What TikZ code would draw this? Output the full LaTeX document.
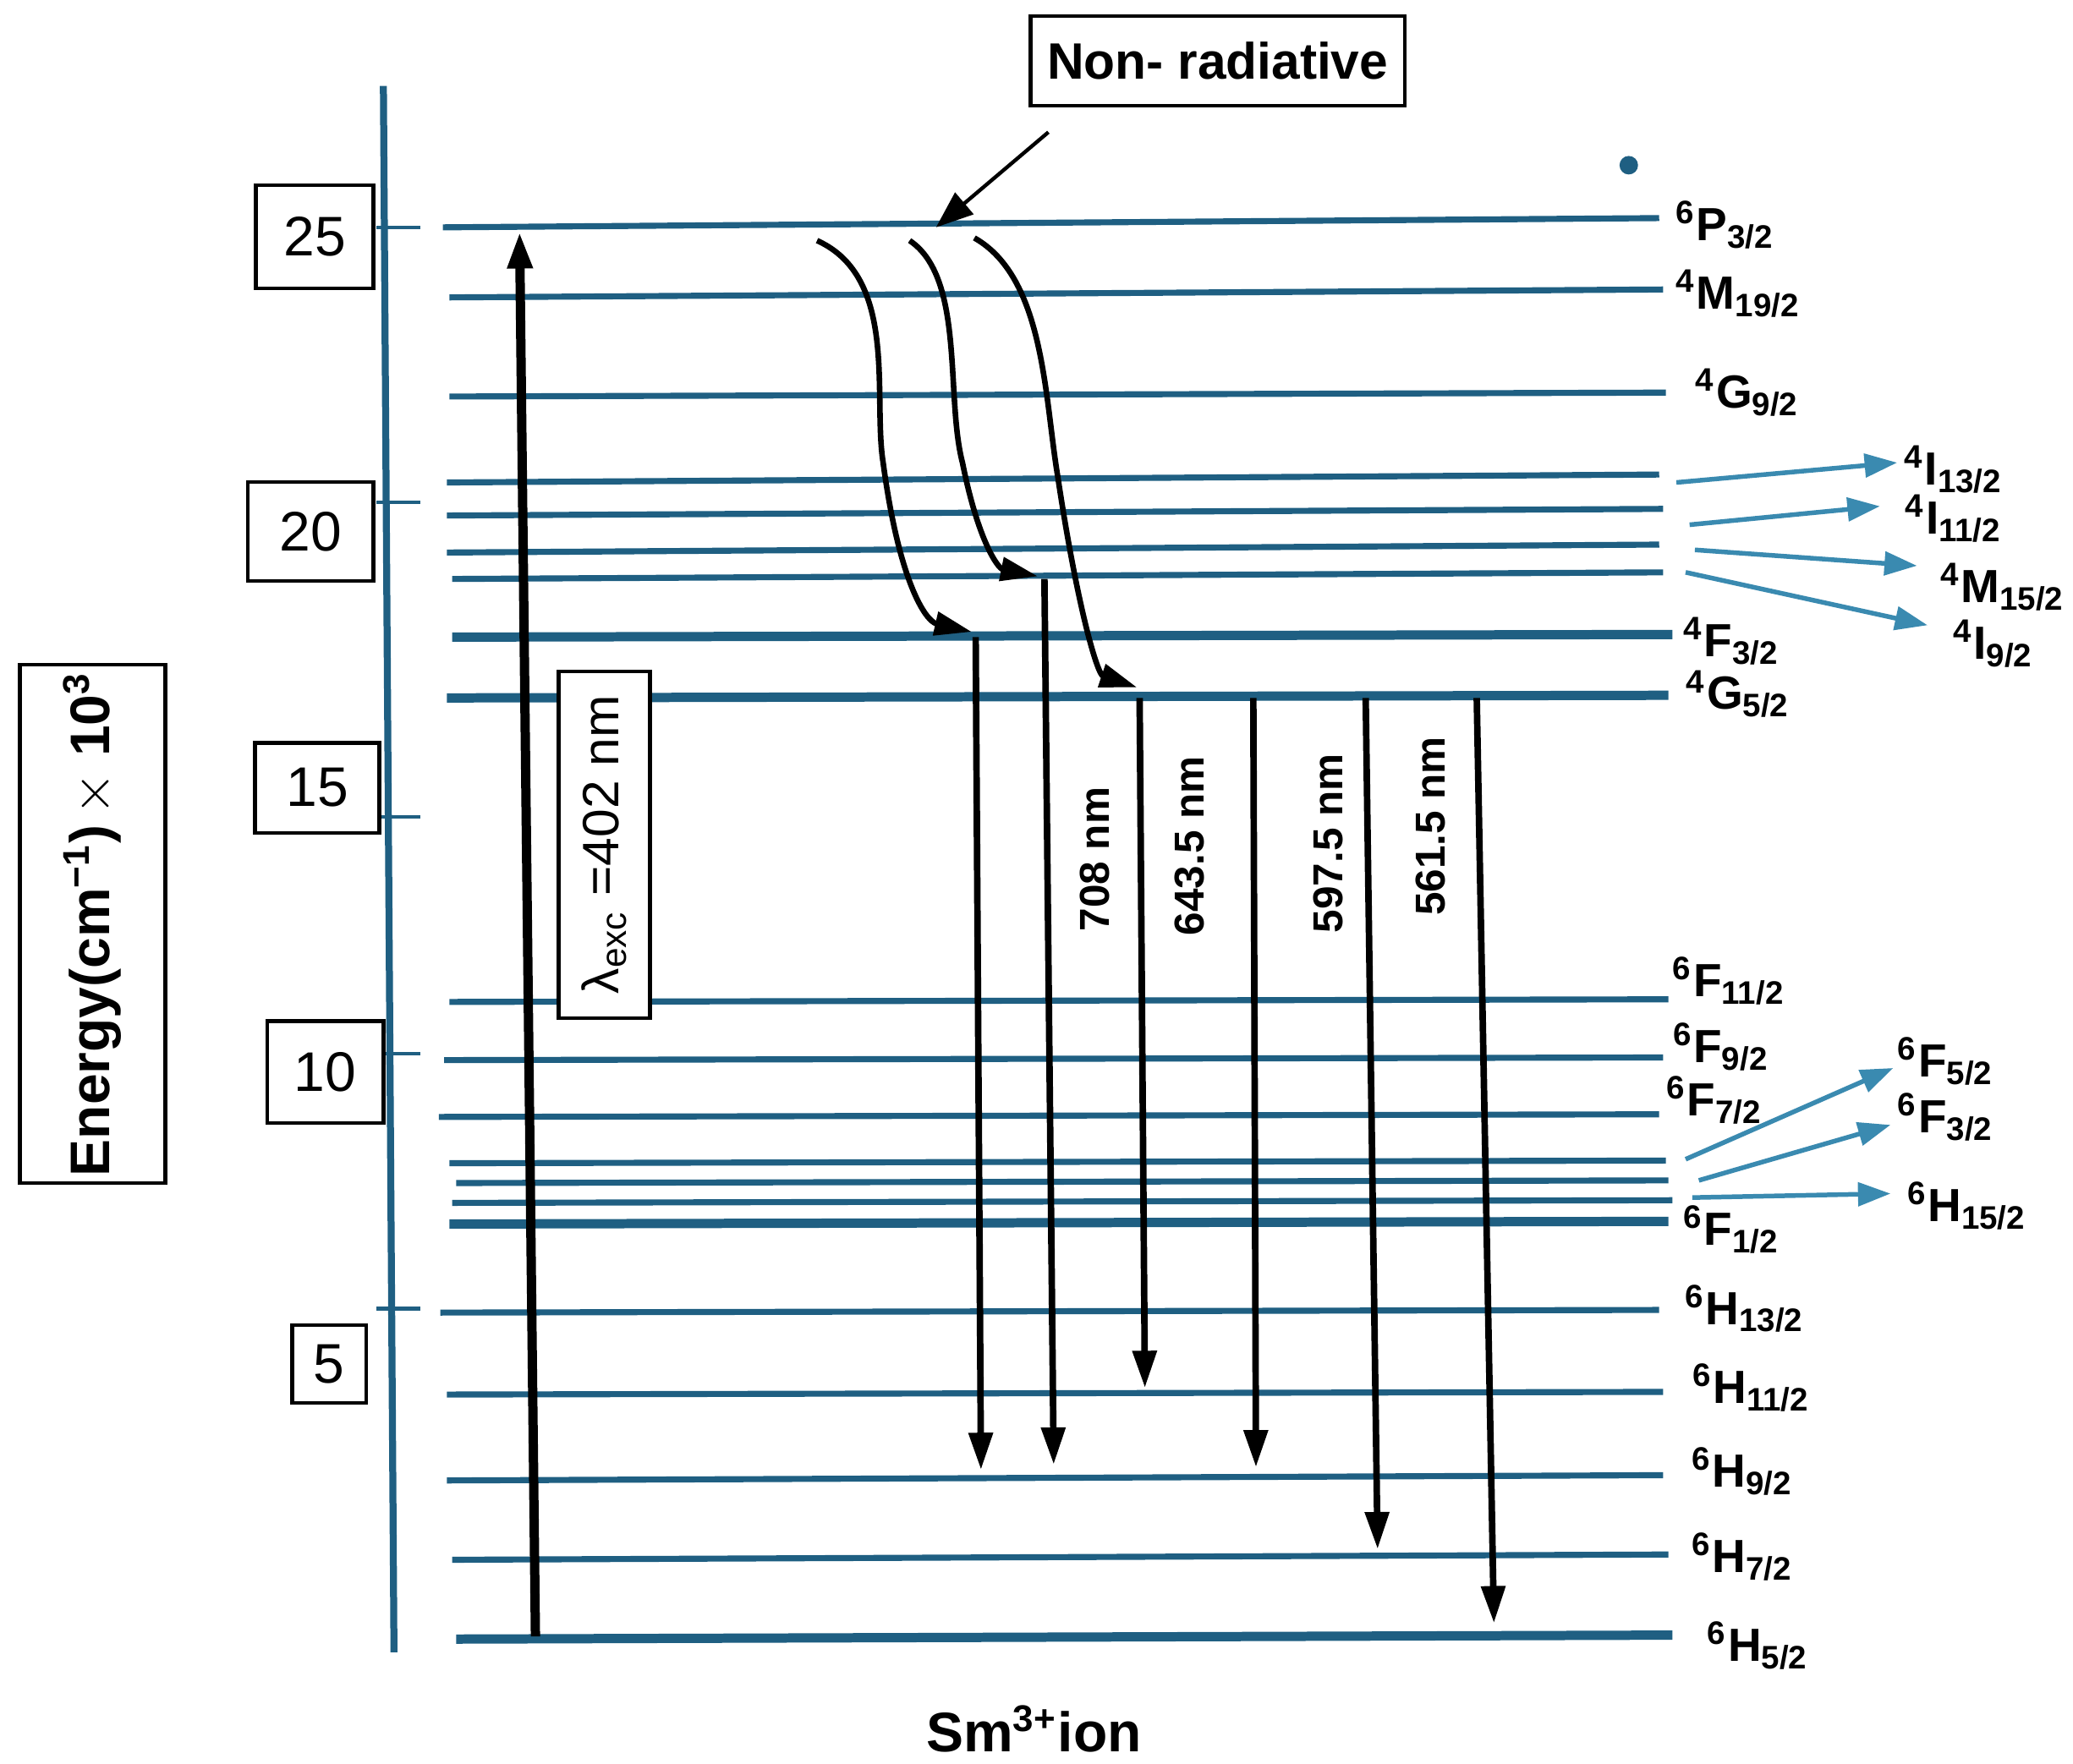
\documentclass[tikz,border=0pt]{standalone}
\usepackage{fontspec}
\setmainfont{Liberation Sans}
\usetikzlibrary{arrows.meta}
\definecolor{lev}{HTML}{1F5F82}
\definecolor{arr}{HTML}{3A8AB0}
\newcommand{\tm}[3]{\textsuperscript{#1}#2\textsubscript{#3}}
\begin{document}
\begin{tikzpicture}[x=0.01cm,y=-0.01cm,
 lv/.style={lev,line width=1.3pt},
 lvt/.style={lev,line width=2pt},
 lab/.style={font=\bfseries\fontsize{10}{12}\selectfont,anchor=center},
 box/.style={draw,line width=0.8pt,fill=white},
 ba/.style={arr,line width=1pt,-{Triangle[length=7pt,width=5pt]}},
 da/.style={black,line width=1.4pt,-{Triangle[length=8pt,width=5pt]}},
 num/.style={box,font=\fontsize{12}{14}\selectfont},
 wl/.style={font=\bfseries\fontsize{9}{12}\selectfont,rotate=90}]
\useasboundingbox (0,0) rectangle (1568,1334);
% axis
\draw[lev,line width=1.5pt] (290,65) -- (298,1250);
\foreach \y in {172,380,618,797,990}{\draw[lev,line width=0.8pt] (285,\y) -- (318,\y);}
\node[num,minimum width=0.89cm,minimum height=0.78cm] (b25) at (238,179) {25};
\node[num,minimum width=0.95cm,minimum height=0.75cm] (b20) at (235,402) {20};
\node[num,minimum width=0.94cm,minimum height=0.68cm] (b15) at (240,596) {15};
\node[num,minimum width=0.88cm,minimum height=0.77cm] (b10) at (246,811) {10};
\node[num,minimum width=0.56cm,minimum height=0.59cm] (b5) at (249,1032) {5};
\node[box,minimum width=1.1cm,minimum height=3.92cm] (eb) at (70,699) {};
\node[rotate=90,font=\bfseries\fontsize{12}{14}\selectfont] (et) at (70,699) {Energy(cm\textsuperscript{−1})\,$\times$ 10\textsuperscript{3}};
% levels
\foreach \a/\b/\c/\d/\s in {335/172/1255/165/lv,340/225/1258/219/lv,340/300/1260/297/lv,338/365/1255/359/lv,338/390/1258/385/lv,338/418/1255/412/lv,342/438/1258/433/lv,342/482/1265/480/lvt,338/528/1262/526/lvt,340/758/1262/756/lv,336/802/1258/800/lv,332/845/1255/843/lv,340/880/1260/878/lv,345/895/1262/893/lv,342/910/1265/908/lv,340/926/1262/924/lvt,333/993/1255/991/lv,338/1055/1258/1053/lv,338/1120/1258/1116/lv,342/1180/1262/1176/lv,345/1240/1265/1237/lvt}
 {\draw[\s] (\a,\b) -- (\c,\d);}
% right labels
\foreach \x/\y/\t in {1305/170/{\tm6P{3/2}},1315/222/{\tm4M{19/2}},1322/297/{\tm4G{9/2}},1310/485/{\tm4F{3/2}},1315/525/{\tm4G{5/2}},1308/742/{\tm6F{11/2}},1302/792/{\tm6F{9/2}},1297/832/{\tm6F{7/2}},1310/930/{\tm6F{1/2}},1320/990/{\tm6H{13/2}},1325/1050/{\tm6H{11/2}},1318/1113/{\tm6H{9/2}},1318/1178/{\tm6H{7/2}},1330/1245/{\tm6H{5/2}},1478/355/{\tm4I{13/2}},1478/392/{\tm4I{11/2}},1515/444/{\tm4M{15/2}},1508/487/{\tm4I{9/2}},1472/803/{\tm6F{5/2}},1472/845/{\tm6F{3/2}},1488/912/{\tm6H{15/2}}}
 {\node[lab] at (\x,\y) {\t};}
% blue arrows
\foreach \a/\b/\c/\d in {1268/365/1435/350,1278/397/1422/383,1282/416/1450/428,1275/433/1458/473,1275/877/1432/808,1285/893/1430/851,1280/906/1430/903}
 {\draw[ba] (\a,\b) -- (\c,\d);}
% non-radiative
\node[box,minimum width=2.83cm,minimum height=0.68cm,font=\bfseries\fontsize{11}{14}\selectfont] (nr) at (921,46) {Non- radiative};
\coordinate (nrs) at (793,100);
\coordinate (nre) at (708,172);
\draw[line width=0.8pt,-{Triangle[length=8pt,width=6pt]}] (nrs) -- (nre);
\fill[lev] (1232,125) circle (7);
% excitation
\draw[da,line width=2pt] (405,1238) -- (393,175);
\node[box,minimum width=0.69cm,minimum height=2.62cm] (lb) at (457,639) {};
\node[rotate=90,font=\fontsize{11}{14}\selectfont] at (457,639) {λ\textsubscript{exc} =402 nm};
% curved non-radiative
\draw[da,line width=1.2pt] (618,182) .. controls (680,210) and (660,300) .. (668,350) .. controls (680,440) and (700,470) .. (735,478);
\draw[da,line width=1.2pt] (688,182) .. controls (730,210) and (715,300) .. (728,350) .. controls (740,410) and (755,430) .. (785,436);
\draw[da,line width=1.2pt] (737,180) .. controls (790,210) and (790,300) .. (800,360) .. controls (815,460) and (830,510) .. (860,520);
% radiative
\foreach \a/\b/\c/\d in {738/482/742/1112,790/438/797/1108,862/528/866/1050,948/528/950/1110,1033/528/1042/1172,1117/528/1130/1228}
 {\draw[da] (\a,\b) -- (\c,\d);}
\node[wl] at (828,650) {708 nm};
\node[wl] at (900,640) {643.5 nm};
\node[wl] at (1005,638) {597.5 nm};
\node[wl] at (1082,625) {561.5 nm};
\node[font=\bfseries\fontsize{12}{14}\selectfont] at (782,1308) {Sm\textsuperscript{3+}ion};
\end{tikzpicture}
\end{document}
